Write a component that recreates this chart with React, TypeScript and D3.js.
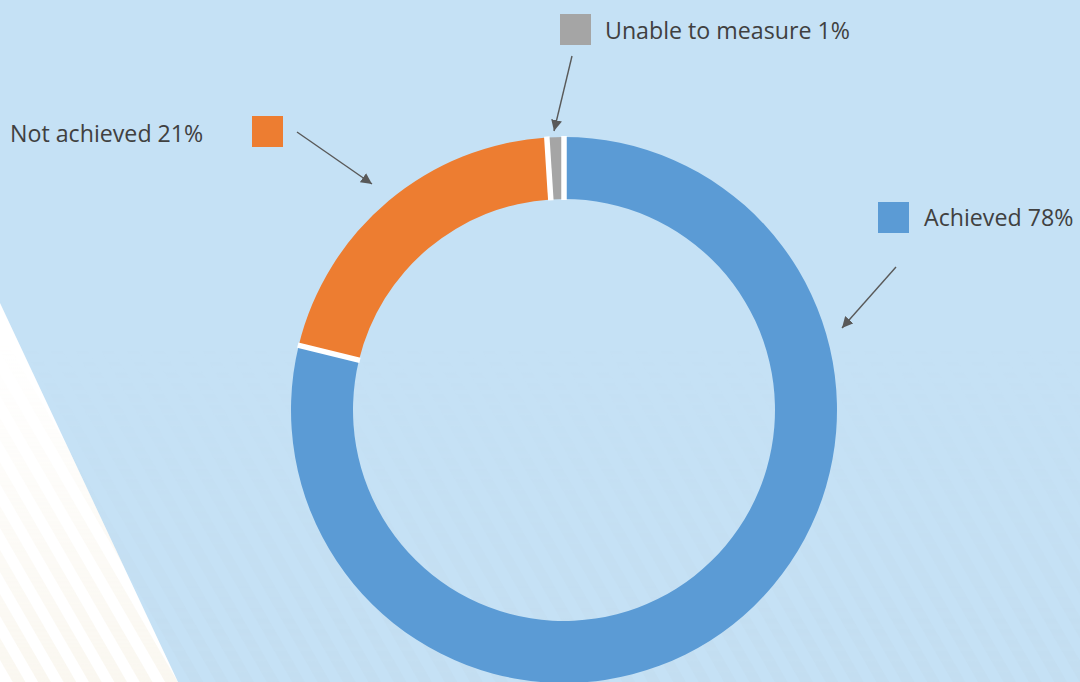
import React from "react";
import * as d3 from "d3";

const categories = ["Achieved", "Not achieved", "Unable to measure"];
const values = [78.8, 20.2, 1.0];
const labels = ["Achieved 78%", "Not achieved 21%", "Unable to measure 1%"];
const colors = ["#5b9bd5", "#ed7d31", "#a5a5a5"];

const W = 1080;
const H = 682;
const CX = 564;
const CY = 410;
const R_OUT = 273;
const R_IN = 211;

// legend/callout placement (square position, text anchor, arrow from/to)
const callouts = [
  { sq: [878, 202], text: [924, 226], anchor: "start", from: [896, 267], to: [842, 328] },
  { sq: [252, 116], text: [10, 142], anchor: "start", from: [297, 132], to: [372, 184] },
  { sq: [560, 14], text: [605, 39], anchor: "start", from: [572, 56], to: [554, 131] },
];

export default function App() {
  const pie = d3.pie<number>().sort(null).value((d) => d);
  const arcs = pie(values);
  const arc = d3.arc<d3.PieArcDatum<number>>().innerRadius(R_IN).outerRadius(R_OUT);

  return (
    <svg
      width={W}
      height={H}
      style={{ position: "absolute", left: 0, top: 0, display: "block" }}
      fontFamily="'Open Sans', sans-serif"
    >
      <defs>
        <pattern id="stripes" width="22" height="22" patternUnits="userSpaceOnUse" patternTransform="rotate(-30)">
          <rect width="11" height="22" fill="#b9c9d4" />
        </pattern>
        <pattern id="stripesW" width="22" height="22" patternUnits="userSpaceOnUse" patternTransform="rotate(-30)">
          <rect width="11" height="22" fill="#efe6cf" />
        </pattern>
        <linearGradient id="fade" x1="0" y1="0" x2="0" y2="1">
          <stop offset="0" stopColor="#fff" stopOpacity="0" />
          <stop offset="0.5" stopColor="#fff" stopOpacity="0" />
          <stop offset="1" stopColor="#fff" stopOpacity="1" />
        </linearGradient>
        <mask id="fadeMask">
          <rect width={W} height={H} fill="url(#fade)" />
        </mask>
        <marker id="arrow" viewBox="0 0 10 10" refX="10" refY="5" markerWidth="11" markerHeight="11" markerUnits="userSpaceOnUse" orient="auto">
          <path d="M0,0 L10,5 L0,10 z" fill="#595959" />
        </marker>
      </defs>

      <rect width={W} height={H} fill="#c5e1f5" />
      <rect width={W} height={H} fill="url(#stripes)" opacity="0.12" mask="url(#fadeMask)" />
      <polygon points={`0,303 178,${H} 0,${H}`} fill="#ffffff" />
      <polygon points={`0,303 178,${H} 0,${H}`} fill="url(#stripesW)" opacity="0.3" mask="url(#fadeMask)" />

      <g transform={`translate(${CX},${CY})`}>
        {arcs.map((a, i) => (
          <path key={categories[i]} d={arc(a) || ""} fill={colors[i]} />
        ))}
        {arcs.map((a, i) => {
          const t = a.startAngle;
          return (
            <line
              key={"sep" + i}
              x1={Math.sin(t) * (R_IN - 1)}
              y1={-Math.cos(t) * (R_IN - 1)}
              x2={Math.sin(t) * (R_OUT + 1)}
              y2={-Math.cos(t) * (R_OUT + 1)}
              stroke="#ffffff"
              strokeWidth={5.5}
            />
          );
        })}
      </g>

      {callouts.map((c, i) => (
        <g key={labels[i]}>
          <rect x={c.sq[0]} y={c.sq[1]} width={31} height={31} fill={colors[i]} />
          <text x={c.text[0]} y={c.text[1]} fontSize={23.2} fill="#404040" textAnchor={c.anchor}>
            {labels[i]}
          </text>
          <line
            x1={c.from[0]}
            y1={c.from[1]}
            x2={c.to[0]}
            y2={c.to[1]}
            stroke="#595959"
            strokeWidth={1.4}
            markerEnd="url(#arrow)"
          />
        </g>
      ))}
    </svg>
  );
}
